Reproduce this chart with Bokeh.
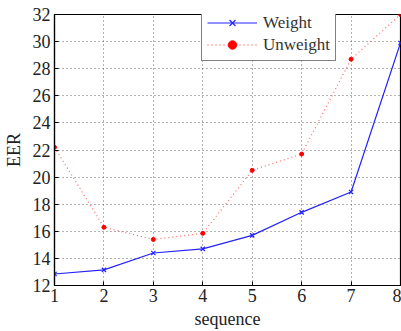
from bokeh.plotting import figure
from bokeh.models import Legend, LegendItem, Range1d, FixedTicker
from bokeh.embed import file_html
from bokeh.resources import INLINE

sequence = [1, 2, 3, 4, 5, 6, 7, 8]
weight = [12.85, 13.15, 14.4, 14.7, 15.7, 17.4, 18.9, 29.9]
unweight = [22.2, 16.3, 15.4, 15.85, 20.5, 21.7, 28.7, 32.0]
x_ticks = [1, 2, 3, 4, 5, 6, 7, 8]
y_ticks = [12, 14, 16, 18, 20, 22, 24, 26, 28, 30, 32]

FONT = "Liberation Serif"

p = figure(width=401, height=331, output_backend="svg", toolbar_location=None,
           x_range=Range1d(1, 8), y_range=Range1d(12, 32),
           min_border_left=53, min_border_right=1, min_border_top=14, min_border_bottom=40)
p.background_fill_color = "white"
p.border_fill_color = "white"
p.outline_line_color = "black"
p.outline_line_width = 1.2

for ax in (p.xaxis[0], p.yaxis[0]):
    ax.major_label_text_font = FONT
    ax.major_label_text_font_size = "18px"
    ax.major_label_text_color = "#222222"
    ax.axis_line_color = "black"
    ax.axis_line_width = 1.2
    ax.major_tick_in = 4
    ax.major_tick_out = 0
    ax.minor_tick_line_color = None
    ax.major_tick_line_color = "black"
    ax.axis_label_text_font = FONT
    ax.axis_label_text_font_size = "18px"
    ax.axis_label_text_font_style = "normal"
    ax.axis_label_text_color = "#222222"

p.xaxis.ticker = FixedTicker(ticks=x_ticks)
p.yaxis.ticker = FixedTicker(ticks=y_ticks)
p.xaxis.major_label_standoff = 3
p.yaxis.major_label_standoff = 4

p.yaxis.axis_label = "EER"
p.yaxis.axis_label_standoff = 6
p.xaxis.axis_label = "sequence"
p.xaxis.axis_label_standoff = 4

for g in (p.xgrid[0], p.ygrid[0]):
    g.grid_line_color = "#444444"
    g.grid_line_dash = "1 3"
    g.grid_line_width = 1
    g.grid_line_alpha = 0.8
p.xgrid.ticker = FixedTicker(ticks=x_ticks)
p.ygrid.ticker = FixedTicker(ticks=y_ticks)

wl = p.line(sequence, weight, line_color="#2222ff", line_width=1.2)
ws = p.scatter(sequence, weight, marker="x", size=6, line_color="#2222ff", line_width=1.2)
ul = p.line(sequence, unweight, line_color="#ff3333", line_width=1.3, line_dash="1 3", line_alpha=0.7)
us = p.scatter(sequence, unweight, marker="circle", size=4, fill_color="#ff0000", line_color="#ff0000")

legend = Legend(items=[LegendItem(label="Weight", renderers=[wl, ws]),
                       LegendItem(label="Unweight", renderers=[ul, us])],
                location=(147, 224))
legend.label_text_font = FONT
legend.label_text_font_size = "17px"
legend.label_text_color = "#333333"
legend.glyph_width = 50
legend.glyph_height = 21
legend.label_height = 21
legend.label_standoff = 6
legend.spacing = 1
legend.padding = 5
legend.margin = 0
legend.border_line_color = "black"
legend.border_line_width = 1.2
legend.background_fill_alpha = 1
p.add_layout(legend)

open("out.html", "w").write(file_html(p, INLINE))
